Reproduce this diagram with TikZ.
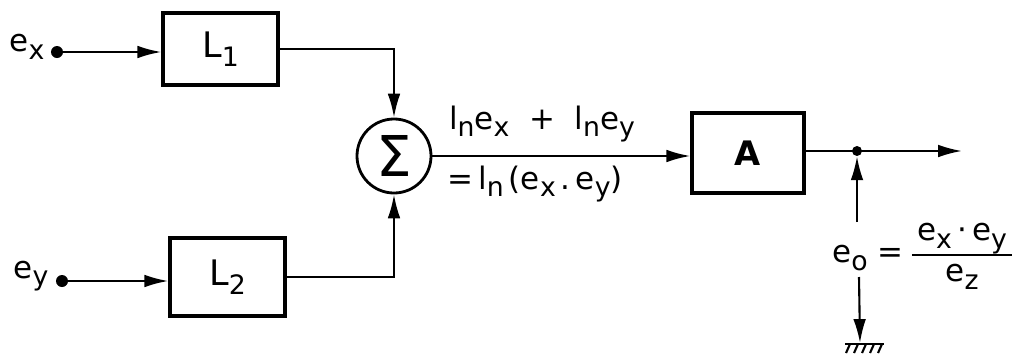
\documentclass[tikz,border=0pt]{standalone}
\usepackage{fontspec}
\setmainfont{DejaVu Sans}
\usetikzlibrary{arrows.meta}
\newcommand{\lsub}[1]{\raisebox{-0.45ex}{\fontsize{19}{19}\selectfont #1}}
\begin{document}
\begin{tikzpicture}[x=0.025cm,y=-0.025cm,
  font=\fontsize{22}{26}\selectfont,
  wire/.style={line width=1.5pt},
  arr/.style={wire,-{Latex[length=17pt,width=9pt]}},
  blk/.style={draw,line width=2.4pt,rectangle,inner sep=0pt},
  dotnode/.style={circle,fill,inner sep=0pt,minimum size=0.3cm},
  sumnode/.style={draw,circle,line width=2pt,minimum size=1.85cm,inner sep=0pt},
  lbl/.style={inner sep=1pt}]
\useasboundingbox (0,0) rectangle (1024,356);

% nodes
\node[lbl] (ex) at (27,47) {e\lsub{x}};
\node[dotnode] (dx) at (57,52) {};
\node[blk,minimum width=2.875cm,minimum height=1.8cm,font=\fontsize{25}{28}\selectfont] (L1) at (220.5,49) {L\lsub{1}};

\node[lbl] (ey) at (31,276) {e\lsub{y}};
\node[dotnode] (dy) at (62,281) {};
\node[blk,minimum width=2.875cm,minimum height=1.95cm,font=\fontsize{25}{28}\selectfont] (L2) at (227.5,277) {L\lsub{2}};

\node[sumnode] (S) at (394,156) {\fontsize{40}{40}\selectfont Σ};

\node[blk,minimum width=2.8cm,minimum height=2cm,font=\fontsize{24}{28}\selectfont] (A) at (748,153) {\textbf{A}};

\node[lbl] (t1) at (542,124) {l\lsub{n}e\lsub{x}\ \ +\ \ l\lsub{n}e\lsub{y}};
\node[lbl] (t2) at (535,184) {=\,l\lsub{n}\,(e\lsub{x}\,.\,e\lsub{y})};

\node[dotnode,minimum size=0.25cm] (J) at (857,151) {};
\coordinate (out) at (962,151);
\coordinate (v1) at (857,222);
\node[lbl] (eo) at (868,258) {e\lsub{o}\ =};
\node[lbl] (fr) at (962,254) {\setlength{\arrayrulewidth}{1.3pt}\begin{tabular}{@{\,}c@{\,}}e\lsub{x}\,·\,e\lsub{y}\\[2pt]\hline e\lsub{z}\end{tabular}};
\coordinate (v2) at (859,277);
\coordinate (g) at (860,343);

% connectors
\draw[arr] (dx) -- (dx -| L1.west);
\draw[arr] (dy) -- (dy -| L2.west);
\draw[arr] (L1.east) -| (S.north);
\draw[arr] (L2.east) -| (S.south);
\draw[arr] (S.east) -- (S.east -| A.west);
\draw[arr] (A.east |- J) -- (out);
\draw[arr] (v1) -- (J.south);
\draw[arr] (v2) -- (g);

% ground
\draw[line width=1.8pt] (845,344) -- (884,344);
\foreach \i in {0,1,2,3,4} {
  \draw[line width=1.5pt] (850+\i*8,344) -- (846+\i*8,353);
}
\end{tikzpicture}
\end{document}
